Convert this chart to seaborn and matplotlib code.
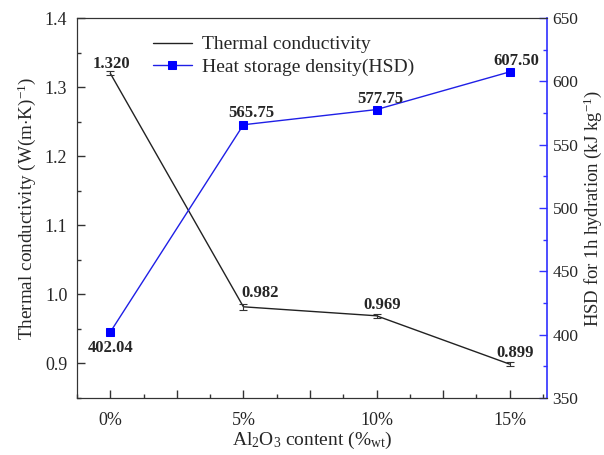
import pandas as pd
import matplotlib.pyplot as plt
import seaborn as sns
from matplotlib.ticker import MultipleLocator, FixedLocator, FixedFormatter

al2o3 = [0, 5, 10, 15]
tick_labels = ['0%', '5%', '10%', '15%']
conductivity = [1.320, 0.982, 0.969, 0.899]
cond_err = [0.003, 0.004, 0.003, 0.003]
cond_text = ['1.320', '0.982', '0.969', '0.899']
hsd = [402.04, 565.75, 577.75, 607.50]
hsd_text = ['402.04', '565.75', '577.75', '607.50']

df = pd.DataFrame({'x': al2o3, 'k': conductivity, 'hsd': hsd})

sns.set_style('ticks')
plt.rcParams['font.family'] = ['Liberation Serif', 'DejaVu Serif']
plt.rcParams['mathtext.fontset'] = 'custom'
plt.rcParams['mathtext.rm'] = 'Liberation Serif'
plt.rcParams['mathtext.it'] = 'Liberation Serif:italic'
plt.rcParams['xtick.direction'] = 'in'
plt.rcParams['ytick.direction'] = 'in'

fig = plt.figure(figsize=(6.04, 4.55), dpi=100)
ax = fig.add_axes([0.1275, 0.1253, 0.778, 0.835])
ax2 = ax.twinx()

sns.lineplot(data=df, x='x', y='k', ax=ax, color='#222222', linewidth=1.0,
             label='Thermal conductivity', legend=False)
ax.errorbar(al2o3, conductivity, yerr=cond_err, fmt='none', ecolor='#333333',
            elinewidth=0.8, capsize=3, capthick=0.8)
sns.lineplot(data=df, x='x', y='hsd', ax=ax2, color='#1f1fe6', linewidth=1.0,
             marker='s', markersize=6, markeredgecolor='#0000ff',
             markerfacecolor='#0000ff', label='Heat storage density(HSD)',
             legend=False)

ax.set_xlim(-1.25, 16.4)
ax.set_ylim(0.85, 1.4)
ax2.set_ylim(350, 650)

ax.xaxis.set_major_locator(FixedLocator([0, 2.5, 5, 7.5, 10, 12.5, 15]))
ax.xaxis.set_major_formatter(FixedFormatter(['0%', '', '5%', '', '10%', '', '15%']))
ax.xaxis.set_minor_locator(MultipleLocator(1.25))
ax.yaxis.set_major_locator(MultipleLocator(0.1))
ax.yaxis.set_minor_locator(MultipleLocator(0.05))
ax2.yaxis.set_major_locator(MultipleLocator(50))
ax2.yaxis.set_minor_locator(MultipleLocator(25))

ax.tick_params(axis='both', which='major', labelsize=13, length=6, width=1,
               color='#333333')
ax.tick_params(axis='y', pad=7)
ax.tick_params(axis='x', pad=10)
ax.tick_params(axis='both', which='minor', length=3, width=1, color='#333333')
ax.tick_params(axis='x', which='both', top=False)
ax2.tick_params(axis='y', which='major', labelsize=12.5, length=6, width=1,
                color='#3333ff', pad=4)
ax2.tick_params(axis='y', which='minor', length=3, width=1, color='#3333ff')

for s in ['left', 'bottom', 'top']:
    ax.spines[s].set_color('#333333')
    ax2.spines[s].set_color('#333333')
ax2.spines['right'].set_color('#2f2fff')
ax2.spines['right'].set_linewidth(1.2)
ax.spines['right'].set_visible(False)

ax.set_xlabel(r'Al$_2$O$_3$ content (%$_{\mathrm{wt}}$)', fontsize=14, labelpad=1)
ax.set_ylabel(r'Thermal conductivity (W(m$\cdot$K)$^{\mathrm{-1}}$)', fontsize=13.8, labelpad=5)
ax2.set_ylabel(r'HSD for 1h hydration (kJ kg$^{\mathrm{-1}}$)', fontsize=13.5, labelpad=2)

cond_off = [(1, 1), (12, 4), (4, 2), (4, 2)]
for x, y, t, o in zip(al2o3, conductivity, cond_text, cond_off):
    ax.annotate(t, (x, y), xytext=o, textcoords='offset points', ha='center',
                va='bottom', fontsize=12, fontweight='bold')
hsd_off = [(0, -6), (6, 3), (3, 2), (5, 2)]
hsd_va = ['top', 'bottom', 'bottom', 'bottom']
for x, y, t, o, v in zip(al2o3, hsd, hsd_text, hsd_off, hsd_va):
    ax2.annotate(t, (x, y), xytext=o, textcoords='offset points', ha='center',
                 va=v, fontsize=12, fontweight='bold')

h1, l1 = ax.get_legend_handles_labels()
h2, l2 = ax2.get_legend_handles_labels()
ax2.legend(h1 + h2, l1 + l2, loc='upper left', bbox_to_anchor=(0.145, 0.974),
           frameon=False, fontsize=14, handlelength=2.0, handletextpad=0.5,
           labelspacing=0.25, borderaxespad=0)

fig.savefig('out.png', dpi=100)
